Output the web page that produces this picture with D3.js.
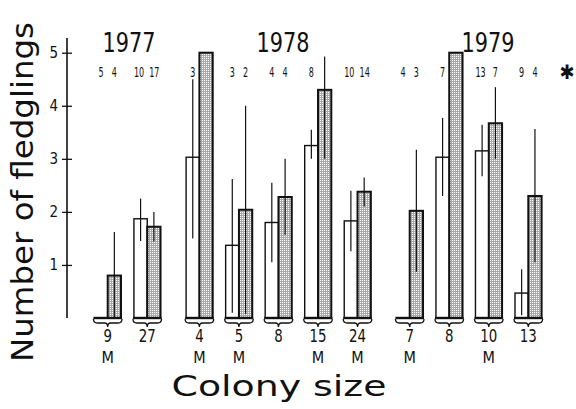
<!DOCTYPE html>
<html lang="en">
<head>
<meta charset="UTF-8">
<title>Number of fledglings by colony size</title>
<style>
    body, html { margin: 0; padding: 0; background: #fff; }
    svg { display: block; }
    text { font-family: 'DejaVu Sans Condensed', 'DejaVu Sans', sans-serif; fill: #111; }
</style>
</head>
<body>
<svg width="576" height="409"></svg>
<script src="https://d3js.org/d3.v7.min.js"></script>
<script>
// data
const years = ["1977", "1978", "1979"];
const colonySize = [9, 27, 4, 5, 8, 15, 24, 7, 8, 10, 13];
const yearIdx = [0, 0, 1, 1, 1, 1, 1, 2, 2, 2, 2];
const markM = ["M", "", "M", "M", "", "M", "M", "M", "", "M", ""];
// open bars
const openMean = [0, 1.87, 3.03, 1.37, 1.8, 3.25, 1.83, 0, 3.03, 3.15, 0.47];
const openLo = [null, 1.45, 1.5, 0.1, 1.05, 3.0, 1.26, null, 2.3, 2.67, 0.05];
const openHi = [null, 2.25, 4.5, 2.62, 2.55, 3.55, 2.4, null, 3.77, 3.64, 0.92];
const openN = [5, 10, 3, 3, 4, 8, 10, 4, 7, 13, 9];
// stippled bars
const stipMean = [0.8, 1.72, 5.0, 2.04, 2.28, 4.3, 2.38, 2.02, 5.0, 3.67, 2.3];
const stipLo = [0, 1.44, null, 0.08, 1.57, 3.0, 2.1, 0.87, null, 3.0, 1.05];
const stipHi = [1.62, 2.0, null, 4.0, 3.0, 4.93, 2.65, 3.17, null, 4.35, 3.56];
const stipN = [4, 17, null, 2, 4, null, 14, 3, null, 7, 4];
const yTicks = [1, 2, 3, 4, 5];

const svg = d3.select("svg");
const barW = 13.3;
const yearGap = 0.32;

const idx = colonySize.map((d, i) => i);
const slots = idx.map(i => i + yearIdx[i] * yearGap);
const x = d3.scaleLinear().domain([0, d3.max(slots)]).range([107.7, 528.3]);
const y = d3.scaleLinear().domain([0, 5]).range([318, 52.7]);

// stipple pattern
const pat = svg.append("defs").append("pattern")
    .attr("id", "stip").attr("width", 2).attr("height", 2)
    .attr("patternUnits", "userSpaceOnUse");
pat.append("rect").attr("width", 2).attr("height", 2).attr("fill", "#a8a8a8");
pat.append("rect").attr("width", 1).attr("height", 1).attr("fill", "#fff");

// y axis
const yAxis = svg.append("g").attr("transform", "translate(67,0)")
    .call(d3.axisLeft(y).tickValues(yTicks).tickFormat(d3.format("d")).tickSize(5).tickPadding(4));
yAxis.select(".domain").remove();
yAxis.selectAll(".tick line").attr("x1", 5).attr("stroke", "#111").attr("stroke-width", 1.3);
yAxis.selectAll(".tick text").attr("font-size", 15)
    .style("font-family", "'DejaVu Sans Condensed', sans-serif").attr("fill", "#111");
svg.append("line").attr("x1", 67).attr("x2", 67).attr("y1", 38).attr("y2", y(0))
    .attr("stroke", "#111").attr("stroke-width", 1.6);

// open bars
svg.selectAll("rect.open").data(idx.filter(i => openMean[i] > 0)).enter().append("rect")
    .attr("class", "open")
    .attr("x", i => x(slots[i]) - barW)
    .attr("y", i => y(openMean[i]))
    .attr("width", barW)
    .attr("height", i => y(0) - y(openMean[i]))
    .attr("fill", "#fff").attr("stroke", "#111").attr("stroke-width", 1.4);

// stippled bars
svg.selectAll("rect.stip").data(idx).enter().append("rect")
    .attr("class", "stip")
    .attr("x", i => x(slots[i]))
    .attr("y", i => y(stipMean[i]))
    .attr("width", barW)
    .attr("height", i => y(0) - y(stipMean[i]))
    .attr("fill", "url(#stip)").attr("stroke", "#111").attr("stroke-width", 2);

// error lines
svg.selectAll("line.eo").data(idx.filter(i => openHi[i] != null))
    .enter().append("line").attr("class", "eo")
    .attr("x1", i => x(slots[i]) - barW / 2).attr("x2", i => x(slots[i]) - barW / 2)
    .attr("y1", i => y(openLo[i])).attr("y2", i => y(openHi[i]))
    .attr("stroke", "#111").attr("stroke-width", 1.2);
svg.selectAll("line.es").data(idx.filter(i => stipHi[i] != null))
    .enter().append("line").attr("class", "es")
    .attr("x1", i => x(slots[i]) + barW / 2).attr("x2", i => x(slots[i]) + barW / 2)
    .attr("y1", i => y(stipLo[i])).attr("y2", i => y(stipHi[i]))
    .attr("stroke", "#111").attr("stroke-width", 1.2);

// baseline and brace under each group
svg.selectAll("line.base").data(idx).enter().append("line").attr("class", "base")
    .attr("x1", i => x(slots[i]) - barW - 1).attr("x2", i => x(slots[i]) + barW + 1)
    .attr("y1", y(0)).attr("y2", y(0))
    .attr("stroke", "#111").attr("stroke-width", 2.4);

svg.selectAll("path.brace").data(idx).enter().append("path").attr("class", "brace")
    .attr("d", i => {
        const c = x(slots[i]), l = c - barW - 1, r = c + barW + 1, y0 = y(0) + 1;
        const p = d3.path();
        p.moveTo(l, y0);
        p.quadraticCurveTo(l, y0 + 4, l + 4, y0 + 4);
        p.lineTo(c - 3, y0 + 4);
        p.quadraticCurveTo(c, y0 + 4, c, y0 + 8);
        p.quadraticCurveTo(c, y0 + 4, c + 3, y0 + 4);
        p.lineTo(r - 4, y0 + 4);
        p.quadraticCurveTo(r, y0 + 4, r, y0);
        return p.toString();
    })
    .attr("fill", "none").attr("stroke", "#111").attr("stroke-width", 1.3);

// colony size labels and M marks
svg.selectAll("text.cs").data(idx).enter().append("text").attr("class", "cs")
    .attr("x", i => x(slots[i])).attr("y", 342)
    .attr("text-anchor", "middle").attr("font-size", 18)
    .attr("textLength", i => String(colonySize[i]).length * 8.5)
    .attr("lengthAdjust", "spacingAndGlyphs")
    .text(i => colonySize[i]);
svg.selectAll("text.mm").data(idx.filter(i => markM[i])).enter().append("text").attr("class", "mm")
    .attr("x", i => x(slots[i])).attr("y", 363)
    .attr("text-anchor", "middle").attr("font-size", 16)
    .text(i => markM[i]);

// sample sizes above bars
const nLen = v => String(v).length * 5.1;
svg.selectAll("text.no").data(idx).enter().append("text").attr("class", "no")
    .attr("x", i => x(slots[i]) - barW / 2 - (openN[i] > 9 ? 1.5 : 0)).attr("y", 77)
    .attr("text-anchor", "middle").attr("font-size", 14)
    .attr("textLength", i => nLen(openN[i])).attr("lengthAdjust", "spacingAndGlyphs")
    .text(i => openN[i]);
svg.selectAll("text.ns").data(idx.filter(i => stipN[i] != null)).enter().append("text").attr("class", "ns")
    .attr("x", i => x(slots[i]) + barW / 2 + (stipN[i] > 9 ? 0.5 : 0)).attr("y", 77)
    .attr("text-anchor", "middle").attr("font-size", 14)
    .attr("textLength", i => nLen(stipN[i])).attr("lengthAdjust", "spacingAndGlyphs")
    .text(i => stipN[i]);
svg.append("text").attr("x", 567).attr("y", 79).attr("text-anchor", "middle")
    .attr("font-size", 20).attr("font-weight", "bold").text("✱");

// year labels
const yearX = [129, 283, 488];
svg.selectAll("text.yr").data(years).enter().append("text").attr("class", "yr")
    .attr("x", (d, i) => yearX[i]).attr("y", 52)
    .attr("text-anchor", "middle").attr("font-size", 27)
    .attr("textLength", 53).attr("lengthAdjust", "spacingAndGlyphs")
    .text(d => d);

// axis titles
svg.append("text").attr("x", 279).attr("y", 396).attr("text-anchor", "middle")
    .attr("font-size", 29).style("font-family", "'DejaVu Sans', sans-serif")
    .attr("textLength", 215).attr("lengthAdjust", "spacingAndGlyphs")
    .text("Colony size");
svg.append("text").attr("transform", "translate(33,192) rotate(-90)")
    .attr("text-anchor", "middle").attr("font-size", 31)
    .style("font-family", "'DejaVu Sans', sans-serif")
    .attr("textLength", 340).attr("lengthAdjust", "spacingAndGlyphs")
    .text("Number of fledglings");
</script>
</body>
</html>
